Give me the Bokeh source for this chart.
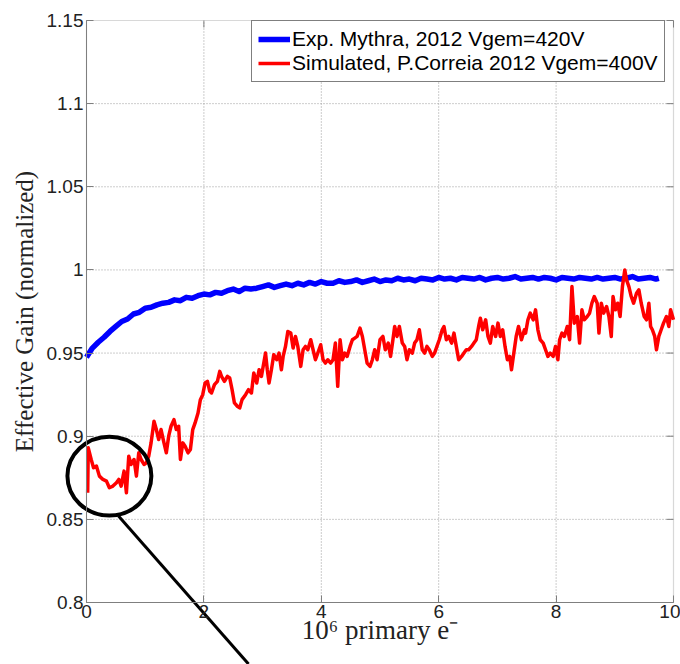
import math
from bokeh.plotting import figure
from bokeh.models import (Legend, LegendItem, LinearAxis, FixedTicker, Range1d,
                          BoxAnnotation)
from bokeh.embed import file_html
from bokeh.resources import INLINE

# ---------------- data ----------------
exp_x = [0.0, 0.1, 0.2, 0.3, 0.4, 0.5, 0.6, 0.7, 0.8, 0.9,
         1.0, 1.1, 1.2, 1.3, 1.4, 1.5, 1.6, 1.7, 1.8, 1.9,
         2.0, 2.1, 2.2, 2.3, 2.4, 2.5, 2.6, 2.7, 2.8, 2.9,
         3.0, 3.1, 3.2, 3.3, 3.4, 3.5, 3.6, 3.7, 3.8, 3.9,
         4.0, 4.1, 4.2, 4.3, 4.4, 4.5, 4.6, 4.7, 4.8, 4.9,
         5.0, 5.1, 5.2, 5.3, 5.4, 5.5, 5.6, 5.7, 5.8, 5.9,
         6.0, 6.1, 6.2, 6.3, 6.4, 6.5, 6.6, 6.7, 6.8, 6.9,
         7.0, 7.1, 7.2, 7.3, 7.4, 7.5, 7.6, 7.7, 7.8, 7.9,
         8.0, 8.1, 8.2, 8.3, 8.4, 8.5, 8.6, 8.7, 8.8, 8.9,
         9.0, 9.1, 9.2, 9.3, 9.4, 9.5, 9.6, 9.7, 9.75]
exp_y = [0.9475, 0.9530, 0.9565, 0.9595, 0.9630, 0.9660, 0.9690, 0.9705, 0.9735, 0.9745,
         0.9770, 0.9775, 0.9790, 0.9800, 0.9805, 0.9820, 0.9815, 0.9835, 0.9830, 0.9845,
         0.9855, 0.9850, 0.9865, 0.9860, 0.9875, 0.9885, 0.9870, 0.9890, 0.9885, 0.9890,
         0.9900, 0.9910, 0.9895, 0.9905, 0.9915, 0.9905, 0.9920, 0.9910, 0.9925, 0.9915,
         0.9930, 0.9920, 0.9920, 0.9935, 0.9925, 0.9930, 0.9940, 0.9925, 0.9935, 0.9945,
         0.9930, 0.9940, 0.9935, 0.9950, 0.9940, 0.9945, 0.9935, 0.9950, 0.9945, 0.9940,
         0.9955, 0.9945, 0.9950, 0.9940, 0.9955, 0.9950, 0.9945, 0.9955, 0.9940, 0.9950,
         0.9955, 0.9945, 0.9950, 0.9960, 0.9945, 0.9950, 0.9955, 0.9945, 0.9955, 0.9950,
         0.9940, 0.9955, 0.9950, 0.9945, 0.9955, 0.9950, 0.9945, 0.9955, 0.9945, 0.9950,
         0.9955, 0.9945, 0.9950, 0.9960, 0.9945, 0.9950, 0.9955, 0.9945, 0.9950]

sim_x = [0.02, 0.03, 0.08, 0.12, 0.17, 0.22, 0.28, 0.34, 0.39, 0.45,
         0.51, 0.55, 0.59, 0.64, 0.68, 0.72, 0.76, 0.81, 0.85, 0.89,
         0.93, 0.98, 1.02, 1.06, 1.10, 1.15, 1.19, 1.23, 1.27, 1.32,
         1.36, 1.40, 1.44, 1.49, 1.53, 1.57, 1.60, 1.64, 1.68, 1.73,
         1.77, 1.81, 1.85, 1.90, 1.94, 1.98, 2.02, 2.06, 2.10, 2.13,
         2.18, 2.23, 2.27, 2.30, 2.35, 2.40, 2.44, 2.48, 2.52, 2.57,
         2.61, 2.65, 2.71, 2.76, 2.81, 2.85, 2.90, 2.94, 2.98, 3.02,
         3.05, 3.08, 3.11, 3.15, 3.19, 3.24, 3.28, 3.32, 3.35, 3.39,
         3.43, 3.48, 3.52, 3.56, 3.60, 3.65, 3.69, 3.73, 3.77, 3.82,
         3.86, 3.90, 3.94, 3.99, 4.03, 4.07, 4.11, 4.16, 4.20, 4.24,
         4.28, 4.32, 4.36, 4.40, 4.44, 4.49, 4.53, 4.57, 4.61, 4.66,
         4.70, 4.74, 4.78, 4.83, 4.87, 4.91, 4.95, 5.00, 5.05, 5.09,
         5.14, 5.18, 5.22, 5.25, 5.29, 5.33, 5.38, 5.42, 5.46, 5.50,
         5.55, 5.59, 5.63, 5.67, 5.72, 5.76, 5.80, 5.84, 5.89, 5.93,
         5.97, 6.01, 6.06, 6.09, 6.13, 6.17, 6.22, 6.26, 6.30, 6.34,
         6.39, 6.43, 6.47, 6.51, 6.56, 6.60, 6.64, 6.68, 6.71, 6.75,
         6.80, 6.84, 6.88, 6.92, 6.97, 7.01, 7.05, 7.09, 7.13, 7.17,
         7.21, 7.24, 7.28, 7.32, 7.36, 7.41, 7.46, 7.48, 7.52, 7.56,
         7.61, 7.65, 7.69, 7.73, 7.78, 7.82, 7.86, 7.90, 7.95, 7.99,
         8.03, 8.06, 8.10, 8.14, 8.19, 8.23, 8.27, 8.31, 8.36, 8.40,
         8.44, 8.48, 8.53, 8.57, 8.61, 8.65, 8.70, 8.73, 8.77, 8.81,
         8.86, 8.90, 8.94, 8.97, 9.01, 9.05, 9.09, 9.13, 9.17, 9.20,
         9.24, 9.28, 9.32, 9.37, 9.41, 9.45, 9.50, 9.54, 9.58, 9.61,
         9.64, 9.68, 9.71, 9.75, 9.79, 9.83, 9.88, 9.92, 9.95, 10.0]
sim_y = [0.866, 0.893, 0.886, 0.881, 0.882, 0.876, 0.874, 0.873, 0.869, 0.870,
         0.872, 0.874, 0.870, 0.879, 0.866, 0.888, 0.883, 0.886, 0.876, 0.890,
         0.886, 0.883, 0.884, 0.888, 0.896, 0.909, 0.904, 0.898, 0.904, 0.896,
         0.890, 0.900, 0.906, 0.910, 0.904, 0.906, 0.886, 0.896, 0.894, 0.890,
         0.892, 0.904, 0.908, 0.914, 0.922, 0.925, 0.932, 0.933, 0.927, 0.926,
         0.931, 0.933, 0.939, 0.936, 0.933, 0.936, 0.935, 0.928, 0.920, 0.918,
         0.917, 0.922, 0.925, 0.928, 0.926, 0.938, 0.932, 0.940, 0.936, 0.944,
         0.950, 0.940, 0.932, 0.940, 0.949, 0.946, 0.950, 0.940, 0.948, 0.954,
         0.963, 0.962, 0.953, 0.960, 0.954, 0.942, 0.952, 0.954, 0.952, 0.958,
         0.952, 0.946, 0.950, 0.955, 0.946, 0.944, 0.946, 0.944, 0.946, 0.956,
         0.930, 0.958, 0.946, 0.950, 0.948, 0.954, 0.958, 0.959, 0.960, 0.965,
         0.960, 0.952, 0.944, 0.942, 0.946, 0.952, 0.946, 0.958, 0.960, 0.952,
         0.956, 0.948, 0.958, 0.966, 0.960, 0.966, 0.956, 0.954, 0.946, 0.952,
         0.950, 0.956, 0.958, 0.964, 0.952, 0.950, 0.954, 0.952, 0.948, 0.950,
         0.954, 0.958, 0.964, 0.966, 0.958, 0.960, 0.956, 0.962, 0.954, 0.946,
         0.948, 0.950, 0.952, 0.952, 0.954, 0.956, 0.958, 0.966, 0.971, 0.964,
         0.970, 0.960, 0.956, 0.966, 0.960, 0.968, 0.960, 0.964, 0.954, 0.946,
         0.948, 0.940, 0.950, 0.960, 0.966, 0.958, 0.964, 0.962, 0.970, 0.974,
         0.970, 0.976, 0.964, 0.958, 0.956, 0.952, 0.948, 0.950, 0.948, 0.954,
         0.946, 0.958, 0.962, 0.960, 0.966, 0.958, 0.990, 0.968, 0.972, 0.956,
         0.976, 0.970, 0.972, 0.974, 0.980, 0.984, 0.980, 0.962, 0.980, 0.974,
         0.978, 0.972, 0.960, 0.984, 0.976, 0.980, 0.972, 0.990, 1.000, 0.994,
         0.990, 0.984, 0.980, 0.986, 0.988, 0.980, 0.972, 0.970, 0.980, 0.966,
         0.964, 0.960, 0.952, 0.960, 0.964, 0.968, 0.972, 0.966, 0.976, 0.970]

x_ticks = [0, 2, 4, 6, 8, 10]
y_ticks = [0.8, 0.85, 0.9, 0.95, 1.0, 1.05, 1.1, 1.15]
y_tick_labels = ["0.8", "0.85", "0.9", "0.95", "1", "1.05", "1.1", "1.15"]
series_labels = ["Exp. Mythra, 2012 Vgem=420V",
                 "Simulated, P.Correia 2012 Vgem=400V"]
x_title = "10\u2076 primary e\u207b"
y_title = "Effective Gain (normalized)"

# axes box (data limits)
X0, X1, Y0, Y1 = 0, 10, 0.8, 1.15

# highlight annotation in data units: ring around the first points + pointer line
ring_center = (0.39, 0.876)
ring_size = (1.43, 0.0475)
pointer_from = (0.545, 0.852)
pointer_to = (2.76, 0.763)

# ---------------- layout (pixels on the canvas) ----------------
W, H = 680, 664
BOX_L, BOX_R, BOX_T, BOX_B = 86, 673, 20, 602
sx = (X1 - X0) / (BOX_R - BOX_L)
sy = (Y1 - Y0) / (BOX_B - BOX_T)
x_range = Range1d(X0 - BOX_L * sx, X1 + (W - BOX_R) * sx)
y_range = Range1d(Y0 - (H - BOX_B) * sy, Y1 + BOX_T * sy)

AX = "#7f7f7f"
TXT = "#222222"
GRID = "#9a9a9a"

p = figure(width=W, height=H, x_range=x_range, y_range=y_range,
           x_axis_type=None, y_axis_type=None, min_border=0,
           output_backend="svg", toolbar_location=None,
           background_fill_color="white", border_fill_color="white")
p.outline_line_color = None
p.grid.visible = False

# dotted grid inside the box
p.segment(x0=x_ticks[1:-1], y0=[Y0] * (len(x_ticks) - 2),
          x1=x_ticks[1:-1], y1=[Y1] * (len(x_ticks) - 2),
          line_color=GRID, line_dash="1 2", line_width=1)
p.segment(x0=[X0] * (len(y_ticks) - 2), y0=y_ticks[1:-1],
          x1=[X1] * (len(y_ticks) - 2), y1=y_ticks[1:-1],
          line_color=GRID, line_dash="1 2", line_width=1)

# axes placed on the box edges
yax = LinearAxis(fixed_location=X0, bounds=(Y0, Y1), ticker=FixedTicker(ticks=y_ticks),
                 axis_label=y_title)
xax = LinearAxis(fixed_location=Y0, bounds=(X0, X1), ticker=FixedTicker(ticks=x_ticks),
                 axis_label=x_title)
yax.major_label_overrides = {t: s for t, s in zip(y_ticks, y_tick_labels)}
for ax in (xax, yax):
    ax.axis_line_color = AX
    ax.major_tick_line_color = AX
    ax.major_tick_in = 7
    ax.major_tick_out = 0
    ax.minor_tick_line_color = None
    ax.major_label_text_font = "Liberation Sans"
    ax.major_label_text_font_size = "19px"
    ax.major_label_text_color = TXT
    ax.axis_label_text_font = "Liberation Serif"
    ax.axis_label_text_font_style = "normal"
    ax.axis_label_text_font_size = "25px"
    ax.axis_label_text_color = TXT
xax.axis_label_text_font_size = "27px"
xax.major_label_standoff = 2
yax.major_label_standoff = 3
xax.axis_label_standoff = -6
yax.axis_label_standoff = 6
p.add_layout(yax, "left")
p.add_layout(xax, "below")

# box outline and mirrored inward ticks on the right / top edges
p.add_layout(BoxAnnotation(left=X0, right=X1, bottom=Y0, top=Y1,
                           fill_color=None, line_color=AX, line_width=1.2,
                           level="underlay"))
p.ray(x=[X1] * len(y_ticks), y=y_ticks, length=7, length_units="screen",
      angle=math.pi, line_color=AX, line_width=1)
p.ray(x=x_ticks, y=[Y1] * len(x_ticks), length=7, length_units="screen",
      angle=-math.pi / 2, line_color=AX, line_width=1)

# data
r_exp = p.line(exp_x, exp_y, line_color="#0000ff", line_width=5.5, line_join="round")
r_sim = p.line(sim_x, sim_y, line_color="#ff0000", line_width=3.5, line_join="round")

# ring + pointer
p.ellipse(x=[ring_center[0]], y=[ring_center[1]], width=ring_size[0],
          height=ring_size[1], fill_color=None, line_color="black", line_width=4)
p.segment(x0=[pointer_from[0]], y0=[pointer_from[1]], x1=[pointer_to[0]],
          y1=[pointer_to[1]], line_color="black", line_width=3)

legend = Legend(items=[LegendItem(label=series_labels[0], renderers=[r_exp]),
                       LegendItem(label=series_labels[1], renderers=[r_sim])],
                location=(251, 582))
legend.label_text_font = "Liberation Sans"
legend.label_text_font_size = "21px"
legend.label_text_color = "black"
legend.border_line_color = "black"
legend.border_line_width = 1
legend.background_fill_color = "white"
legend.background_fill_alpha = 1
legend.glyph_width = 32
legend.glyph_height = 20
legend.label_height = 20
legend.label_standoff = 2
legend.spacing = 0
legend.padding = 6
legend.margin = 0
p.add_layout(legend)

open("out.html", "w").write(file_html(p, INLINE))
